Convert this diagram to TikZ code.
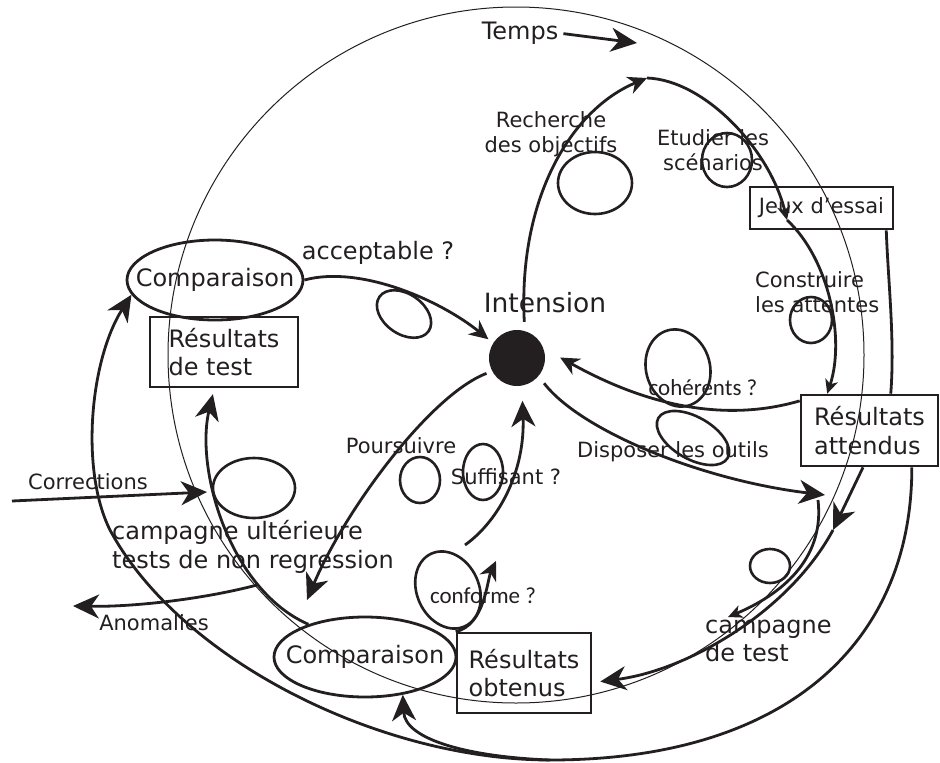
\documentclass[tikz,border=0pt]{standalone}
\usepackage{fontspec}
\setmainfont{DejaVu Sans}
\newfontfamily\condfont{Carlito}
\usepackage{tikz}
\usetikzlibrary{arrows.meta,shapes.geometric}
\definecolor{ink}{HTML}{231F20}
\newcommand{\bigsz}{\fontsize{24}{28.5}\selectfont}
\newcommand{\smallsz}{\fontsize{21}{25}\selectfont}
\newcommand{\intsz}{\fontsize{26.5}{31}\selectfont}
\newcommand{\condsz}{\condfont\fontsize{23}{27}\selectfont}

\begin{document}
\begin{tikzpicture}[x=1pt,y=-1pt,
  resbox/.style={draw=ink,line width=2.6pt,text=ink,font=\bigsz,align=left,inner sep=0pt},
  cmpell/.style={ellipse,draw=ink,line width=2.8pt,inner sep=0pt},
  lbl/.style={text=ink,font=\smallsz,inner sep=0pt},
  lblbig/.style={text=ink,font=\bigsz,inner sep=0pt},
  lblcond/.style={text=ink,font=\condsz,inner sep=0pt},
  orbit/.style={draw=ink,line width=1pt},
  loopring/.style={draw=ink,line width=2.6pt},
  flowline/.style={draw=ink,line width=2.8pt},
  flow/.style={flowline,-{Stealth[length=26pt,width=24pt,inset=8pt]}},
  flowm/.style={flowline,-{Stealth[length=19pt,width=18pt,inset=6pt]}},
  flows/.style={flowline,-{Stealth[length=14pt,width=13pt,inset=4pt]}}]
\useasboundingbox (0,0) rectangle (940,763);

\draw[orbit] (516,355) circle [radius=348];

\node[circle,fill=ink,minimum size=56pt,inner sep=0pt] (intension) at (517,358) {};
\node[lbl,font=\intsz] (lint) at (545,303) {Intension};
\node[cmpell,minimum width=176pt,minimum height=80pt,label={[lblbig]center:Comparaison}] (comphaut) at (215,280) {};
\node[cmpell,minimum width=182pt,minimum height=80pt,label={[lblbig]center:Comparaison}] (compbas) at (365,657) {};
\node[resbox,minimum width=148pt,minimum height=70pt] (restest) at (224,352) {Résultats\\de test};
\node[resbox,minimum width=137pt,minimum height=71pt] (resatt) at (869.5,430.5) {Résultats\\attendus};
\node[resbox,minimum width=134pt,minimum height=80pt] (resobt) at (524,673) {Résultats\\obtenus};
\node[resbox,font=\smallsz,minimum width=143pt,minimum height=42pt] (jeux) at (821.5,208) {Jeux d'essai};

\node[lblbig] (ltemps) at (520,33) {Temps};
\node[lblbig] (laccept) at (378,253) {acceptable ?};
\node[lbl,align=center] (lrech) at (551,134) {Recherche\\des objectifs};
\node[lbl,align=center] (letud) at (713,150) {Etudier les\\scénarios};
\node[lbl,align=left,anchor=west] (lconst) at (755,292) {Construire\\les attentes};
\node[lblcond] (lcoh) at (703,388) {cohérents ?};
\node[lbl] (ldisp) at (673,452) {Disposer les outils};
\node[lbl] (lsuff) at (506,477) {Suffisant ?};
\node[lbl] (lpours) at (401,446) {Poursuivre};
\node[lbl] (lcorr) at (88,482) {Corrections};
\node[lblbig,align=left,anchor=west] (lcampu) at (112,547) {campagne ultérieure\\tests de non regression};
\node[lbl] (lano) at (154,623) {Anomalies};
\node[lblcond] (lconf) at (483,596) {conforme ?};
\node[lblbig,align=left,anchor=west] (lcampt) at (705,641) {campagne\\de test};

\coordinate (tempsend) at (637,43);
\coordinate (arcA) at (647,78);
\coordinate (arcB) at (787,220);
\coordinate (dispend) at (825,495);
\coordinate (campstart) at (818,500);
\coordinate (campend) at (728,617);
\coordinate (campmid) at (833,530);
\coordinate (bot) at (550,760);
\coordinate (leftmid) at (110,530);
\coordinate (corrin) at (12,501);
\coordinate (corrend) at (207,492);
\coordinate (anostart) at (257,585);
\coordinate (anoend) at (73,606);
\coordinate (poursend) at (307,600);
\coordinate (suffin) at (465,545);
\coordinate (confend) at (496,561);

\draw[loopring] (595,183) ellipse [x radius=37, y radius=31];
\draw[loopring] (727,160) ellipse [x radius=25, y radius=27];
\draw[loopring] (811,320) ellipse [x radius=21, y radius=23];
\draw[loopring,rotate around={15:(678,368)}] (678,368) ellipse [x radius=32, y radius=39];
\draw[loopring,rotate around={-30:(693,438)}] (693,438) ellipse [x radius=40, y radius=21];
\draw[loopring] (770,566) ellipse [x radius=20, y radius=17];
\draw[loopring,rotate around={25:(448,590)}] (448,590) ellipse [x radius=31, y radius=40];
\draw[loopring] (483,472) ellipse [x radius=20, y radius=28];
\draw[loopring] (420,480) ellipse [x radius=20, y radius=23];
\draw[loopring,rotate around={-35:(404,314)}] (404,314) ellipse [x radius=30, y radius=20];
\draw[loopring] (254,488) ellipse [x radius=41, y radius=30];

\draw[flow,shorten <=5pt] (ltemps.east) -- (tempsend);
\draw[flowm,shorten <=9pt] (intension.74) .. controls (518,200) and (570,110) .. (arcA);
\draw[flows] (arcA) .. controls (705,80) and (770,150) .. (arcB);
\draw[flows] (arcB) .. controls (830,260) and (845,340) .. (resatt.139.5);
\draw[flowline] (jeux.-19) .. controls (888,280) and (895,340) .. (resatt.60);
\draw[flowm,shorten >=19pt] (resatt.157) .. controls (700,430) and (610,385) .. (intension.20);
\draw[flow,shorten <=9pt] (intension.-40) .. controls (580,430) and (700,480) .. (dispend);
\draw[flows] (campstart) .. controls (825,560) and (780,595) .. (campend);
\draw[flow] (resatt.-100) -- (campmid);
\draw[flow,shorten >=8pt] (campmid) .. controls (790,610) and (690,670) .. (resobt.-8);
\draw[flowline] (resatt.-41) .. controls (912,640) and (790,760) .. (bot);
\draw[flow] (bot) .. controls (470,757) and (405,740) .. (compbas.-45);
\draw[flow] (bot) .. controls (380,760) and (180,660) .. (leftmid) .. controls (80,470) and (90,360) .. (comphaut.190);
\draw[flowm,shorten >=6pt] (comphaut.east) .. controls (360,265) and (440,300) .. (intension.148);
\draw[flow] (corrin) -- (corrend);
\draw[flow,shorten >=6pt] (compbas.150) .. controls (230,590) and (195,470) .. (restest.-105);
\draw[flow] (anostart) .. controls (200,600) and (130,607) .. (anoend);
\draw[flow,shorten <=6pt] (intension.208) .. controls (430,395) and (345,510) .. (poursend);
\draw[flow,shorten >=15pt] (suffin) .. controls (500,520) and (525,470) .. (intension.-80);
\draw[flowm] (resobt.north west) .. controls (485,625) and (487,580) .. (confend);
\end{tikzpicture}
\end{document}
